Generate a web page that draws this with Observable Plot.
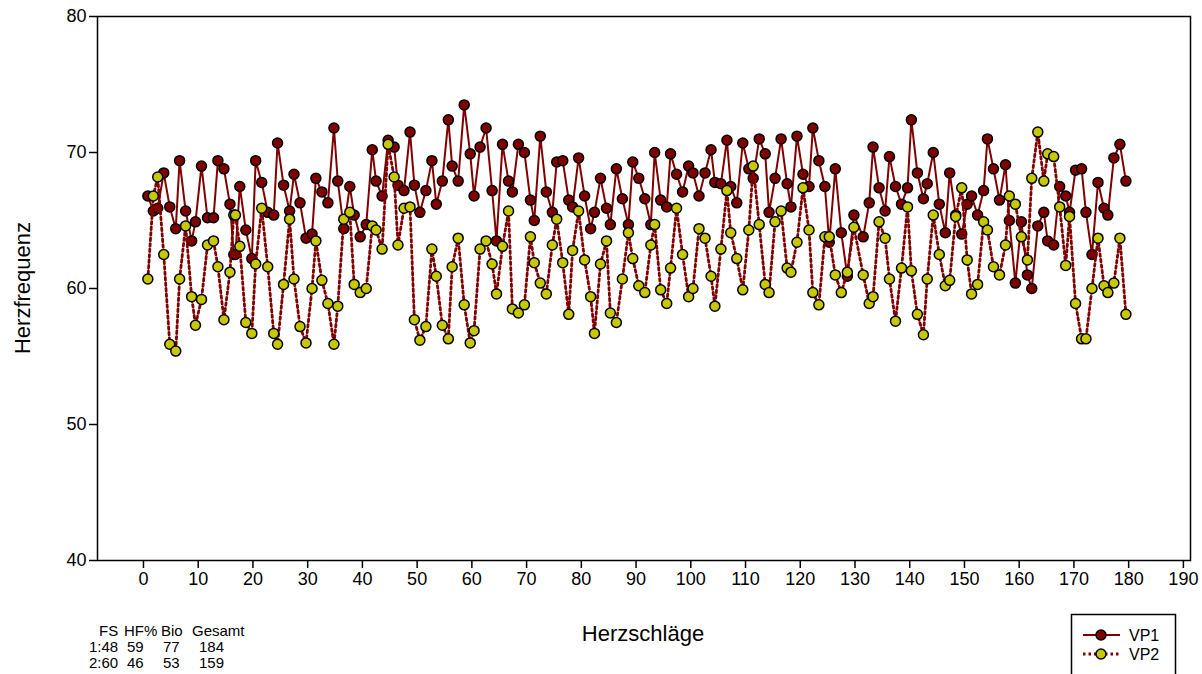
<!DOCTYPE html>
<html><head><meta charset="utf-8">
<script src="https://cdn.jsdelivr.net/npm/d3@7"></script>
<script src="https://cdn.jsdelivr.net/npm/@observablehq/plot@0.6"></script>
<style>
body{margin:0;background:#fff;font-family:"Liberation Sans",Arial,sans-serif;}
#wrap{position:relative;width:1202px;height:674px;overflow:hidden;background:#fff}
#wrap svg{position:absolute;left:0;top:0}
</style></head><body><div id="wrap"></div>
<script>
// Beat positions (x)
const beats = [0.8,1.8,2.6,3.7,4.8,5.9,6.6,7.7,8.8,9.5,10.6,11.7,12.8,13.6,14.7,15.8,16.5,16.8,17.6,18.7,19.8,20.5,21.6,22.7,23.8,24.5,25.6,
26.7,27.5,28.6,29.7,30.8,31.5,32.6,33.7,34.8,35.5,36.6,37.7,38.5,39.6,40.7,41.8,42.5,43.6,44.7,45.8,46.5,47.6,48.7,49.5,50.5,51.6,
52.7,53.5,54.6,55.7,56.4,57.5,58.6,59.7,60.4,61.5,62.6,63.7,64.5,65.6,66.7,67.4,68.5,69.6,70.7,71.4,72.5,73.6,74.7,75.5,76.6,77.7,
78.4,79.5,80.6,81.7,82.4,83.5,84.6,85.3,86.4,87.5,88.6,89.4,90.5,91.6,92.7,93.4,94.5,95.6,96.3,97.4,98.5,99.6,100.4,101.5,102.6,103.7,
104.4,105.5,106.6,107.3,108.4,109.5,110.6,111.4,112.5,113.6,114.3,115.4,116.5,117.6,118.3,119.4,120.5,121.6,122.3,123.4,124.5,125.3,126.4,127.5,128.6,129.8,
131.5,132.6,133.3,134.4,135.5,136.3,137.4,138.5,139.6,140.3,141.4,142.5,143.2,144.3,145.4,146.5,147.3,148.4,149.5,150.5,151.3,152.4,153.5,154.2,155.3,
156.4,157.5,158.2,159.3,160.4,161.5,162.3,163.4,164.5,165.2,166.3,167.4,168.5,169.2,170.3,171.4,172.2,173.3,174.4,175.5,176.2,177.3,178.4,179.5];

const vp1 = [66.8,65.7,65.9,68.5,66.0,64.4,69.4,65.7,63.5,64.9,69.0,65.2,65.2,69.4,68.8,66.2,62.5,62.5,67.5,64.3,62.2,69.4,67.8,65.6,65.4,70.7,67.6,
65.7,68.4,66.3,63.7,64.0,68.1,67.1,66.3,71.8,67.9,64.4,67.5,65.4,63.8,64.7,70.2,67.9,66.8,70.9,70.4,67.6,67.2,71.5,67.6,65.6,67.2,
69.4,66.2,67.9,72.4,69.0,67.9,73.5,69.9,66.8,70.4,71.8,67.2,63.5,70.6,67.9,67.1,70.6,70.0,66.5,65.0,71.2,67.1,65.6,69.3,69.4,66.5,
66.0,69.6,66.8,64.4,65.6,68.1,65.9,64.7,68.8,66.6,64.7,69.3,68.1,66.6,64.7,70.0,66.5,66.0,69.9,68.4,67.1,69.0,68.5,66.8,68.5,70.2,
67.8,67.7,70.9,67.5,66.3,70.7,68.8,68.1,71.0,69.9,65.6,68.1,71.0,67.7,66.0,71.2,68.4,67.5,71.8,69.4,67.5,63.4,68.8,64.1,60.9,65.4,
63.8,66.3,70.4,67.4,65.7,69.7,67.5,66.2,67.4,72.4,68.5,66.6,67.7,70.0,66.2,64.1,68.5,65.4,64.0,66.2,66.8,65.4,67.2,71.0,68.8,
66.5,69.1,65.0,60.4,64.9,61.0,60.0,64.6,65.6,63.5,63.2,67.5,66.8,65.6,68.7,68.8,65.6,62.5,67.8,65.9,65.4,69.6,70.6,67.9];

const vp2 = [60.7,66.8,68.2,62.5,55.9,55.4,60.7,64.6,59.4,57.3,59.2,63.2,63.5,61.6,57.7,61.2,65.4,65.4,63.1,57.5,56.7,61.8,65.9,61.6,56.7,55.9,60.3,
65.1,60.7,57.2,56.0,60.0,63.5,60.6,58.9,55.9,58.7,65.1,65.6,60.3,59.7,60.0,64.6,64.3,62.9,70.6,68.2,63.2,65.9,66.0,57.7,56.2,57.2,
62.9,60.9,57.3,56.3,61.6,63.7,58.8,56.0,56.9,62.9,63.5,61.8,59.6,63.1,65.7,58.5,58.2,58.8,63.8,61.9,60.4,59.6,63.2,65.1,61.9,58.1,
62.8,65.7,62.1,59.4,56.7,61.8,63.5,58.2,57.5,60.7,64.1,62.2,60.2,59.7,63.2,64.7,59.9,58.9,61.5,65.9,62.5,59.4,60.0,64.4,63.7,60.9,
58.7,62.9,67.2,64.1,62.2,59.9,64.3,69.0,64.7,60.3,59.7,64.9,65.7,61.5,61.2,63.4,67.4,64.3,59.7,58.8,63.8,63.8,61.0,59.7,61.2,64.5,
61.0,58.9,59.4,64.9,63.7,60.7,57.6,61.5,66.0,61.3,58.1,56.6,60.7,65.4,62.5,60.2,60.6,65.3,67.4,62.1,59.6,60.3,64.9,64.3,61.6,
61.0,63.2,66.8,66.2,63.8,62.1,68.1,71.5,67.9,69.9,69.7,66.0,61.7,65.3,58.9,56.3,56.3,60.0,63.7,60.2,59.7,60.4,63.7,58.1];

const xTicks = [0,10,20,30,40,50,60,70,80,90,100,110,120,130,140,150,160,170,180,190];
const yTicks = [40,50,60,70,80];
const seriesNames = ["VP1","VP2"];
const tableHeader = ["FS","HF%","Bio","Gesamt"];
const tableRow1 = ["1:48","59","77","184"];
const tableRow2 = ["2:60","46","53","159"];
const xTitle = "Herzschläge";
const yTitle = "Herzfrequenz";

const RED = "#800000", YEL = "#c8c800";
const DOTS = "2.5,3";
const d1 = beats.map((x, i) => ({x, y: vp1[i]}));
const d2 = beats.map((x, i) => ({x, y: vp2[i]}));
const FONT = '"Liberation Sans", Arial, sans-serif';

const chart = Plot.plot({
  width: 1202, height: 674,
  marginLeft: 97, marginRight: 12, marginTop: 16, marginBottom: 114,
  x: {domain: [-8.4, 191.3]},
  y: {domain: [40, 80]},
  style: {fontFamily: FONT, fontSize: "18px", color: "black", background: "white"},
  marks: [
    Plot.axisY({ticks: yTicks, tickSize: 8, tickPadding: 3, label: null, fontSize: 18, strokeWidth: 1.5}),
    Plot.axisX({ticks: xTicks, tickSize: 8, tickPadding: 4, label: null, fontSize: 18, strokeWidth: 1.5}),
    Plot.line(d1, {x: "x", y: "y", stroke: RED, strokeWidth: 2}),
    Plot.dot(d1, {x: "x", y: "y", r: 5, fill: RED, stroke: "black", strokeWidth: 1.5}),
    Plot.line(d2, {x: "x", y: "y", stroke: RED, strokeWidth: 2.8, strokeDasharray: DOTS}),
    Plot.dot(d2, {x: "x", y: "y", r: 5, fill: YEL, stroke: "black", strokeWidth: 1.5}),
    Plot.frame({stroke: "black", strokeWidth: 1.5})
  ]
});
const wrap = document.getElementById("wrap");
wrap.appendChild(chart);

// overlay: titles, table, legend
const ov = d3.select(wrap).append("svg").attr("width", 1202).attr("height", 674)
  .style("font-family", FONT).style("pointer-events", "none");
ov.append("text").attr("x", 643).attr("y", 641).attr("text-anchor", "middle")
  .attr("font-size", 22).text(xTitle);
ov.append("text").attr("transform", "translate(30,288) rotate(-90)").attr("text-anchor", "middle")
  .attr("font-size", 22).text(yTitle);

const colX = [[99, 124, 161, 192], [89, 127, 163, 199], [89, 127, 163, 199]];
[tableHeader, tableRow1, tableRow2].forEach((row, r) => {
  row.forEach((t, c) => {
    ov.append("text").attr("x", colX[r][c]).attr("y", 636 + r * 16)
      .attr("font-size", 15).text(t);
  });
});

// legend box
ov.append("rect").attr("x", 1071.5).attr("y", 614.5).attr("width", 104).attr("height", 80)
  .attr("fill", "white").attr("stroke", "black").attr("stroke-width", 1.5);
const legY = [635, 654];
seriesNames.forEach((name, i) => {
  const g = ov.append("g");
  g.append("line").attr("x1", 1083).attr("x2", 1120).attr("y1", legY[i]).attr("y2", legY[i])
    .attr("stroke", RED).attr("stroke-width", i ? 2.8 : 2).attr("stroke-dasharray", i ? DOTS : null);
  g.append("circle").attr("cx", 1101).attr("cy", legY[i]).attr("r", 5)
    .attr("fill", i ? YEL : RED).attr("stroke", "black").attr("stroke-width", 1.5);
  g.append("text").attr("x", 1129).attr("y", legY[i] + 6).attr("font-size", 16).text(name);
});
</script>
</body></html>
